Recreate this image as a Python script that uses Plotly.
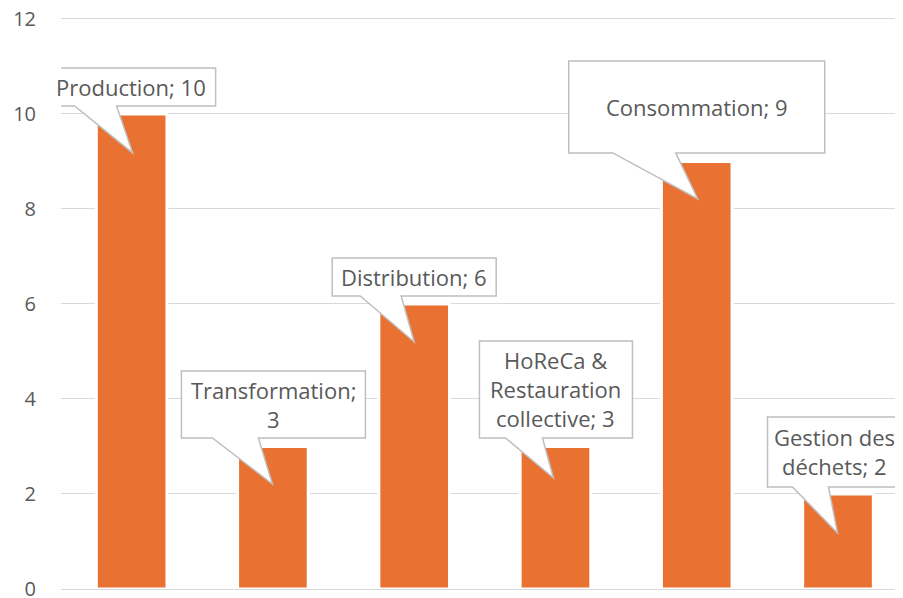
import plotly.graph_objects as go

# ---- data ----
categories = ["Production", "Transformation", "Distribution",
              "HoReCa & Restauration collective", "Consommation", "Gestion des déchets"]
values = [10, 3, 6, 3, 9, 2]
label_lines = [
    ["Production; 10"],
    ["Transformation;", "3"],
    ["Distribution; 6"],
    ["HoReCa &", "Restauration", "collective; 3"],
    ["Consommation; 9"],
    ["Gestion des", "déchets; 2"],
]
y_ticks = [0, 2, 4, 6, 8, 10, 12]

# ---- callout geometry (pixel offsets from bar top, y up) ----
# box: (left, right, top, bottom), wedge base (left, right), tip (dx, dy)
callouts = [
    dict(box=(-85, 84, 46, 8), base=(-57, -15), tip=(1, -39)),
    dict(box=(-91.5, 92.5, 75.5, 8.5), base=(-60.5, -14.5), tip=(-0.5, -37.5)),
    dict(box=(-82, 82, 46, 8), base=(-54, -13), tip=(0, -38)),
    dict(box=(-76, 77, 105.5, 8.5), base=(-50, -13), tip=(-2, -31.5)),
    dict(box=(-128, 128, 100.5, 8.5), base=(-84, -21), tip=(1, -37.5)),
    dict(box=(-70.5, 63.5, 77, 7), base=(-45.5, -9.5), tip=(-0.5, -39)),
]

ORANGE = "#E97132"
TEXT = "#595959"
GRID = "#D9D9D9"
BORDER = "#BFBFBF"
FONT = "Open Sans"
FS = 22
TICK_FS = 20
LINE_H = 29

fig = go.Figure(go.Bar(
    x=categories, y=values,
    marker=dict(color=ORANGE, line=dict(color="white", width=3)),
    hoverinfo="x+y",
))

shapes = []
annotations = []
for i, (v, lines, c) in enumerate(zip(values, label_lines, callouts)):
    l, r, t, b = c["box"]
    bl, br = c["base"]
    tx, ty = c["tip"]
    path = (f"M {l},{t} L {r},{t} L {r},{b} L {br},{b} L {tx},{ty} "
            f"L {bl},{b} L {l},{b} Z")
    shapes.append(dict(
        type="path", xref="x", yref="y", xsizemode="pixel", ysizemode="pixel",
        xanchor=i, yanchor=v, path=path, layer="above",
        fillcolor="white", line=dict(color=BORDER, width=1.5),
    ))
    cx = (l + r) / 2
    cy = (t + b) / 2
    n = len(lines)
    for k, txt in enumerate(lines):
        off = ((n - 1) / 2 - k) * LINE_H
        annotations.append(dict(
            x=i, y=v, xref="x", yref="y", text=txt, showarrow=False,
            xshift=cx, yshift=cy + off,
            font=dict(family=FONT, size=FS, color=TEXT),
            xanchor="center", yanchor="middle",
        ))

fig.update_layout(
    width=895, height=590,
    margin=dict(l=53, r=0, t=9, b=9),
    paper_bgcolor="white", plot_bgcolor="white",
    bargap=0.5,
    showlegend=False,
    shapes=shapes,
    annotations=annotations,
    font=dict(family=FONT, size=FS, color=TEXT),
    xaxis=dict(
        type="category", range=[-0.5, 5.46], showticklabels=False, automargin=False,
        showgrid=False, zeroline=False, showline=False, ticks="",
    ),
    yaxis=dict(
        range=[0, 12.04], tickvals=y_ticks, showgrid=True, gridcolor=GRID, gridwidth=1,
        zeroline=True, zerolinecolor=GRID, zerolinewidth=1, automargin=False,
        showline=False, ticks="", ticklabelstandoff=24, ticklabeloverflow="allow",
        tickfont=dict(family=FONT, size=TICK_FS, color=TEXT),
    ),
)

fig.write_html("out.html")
